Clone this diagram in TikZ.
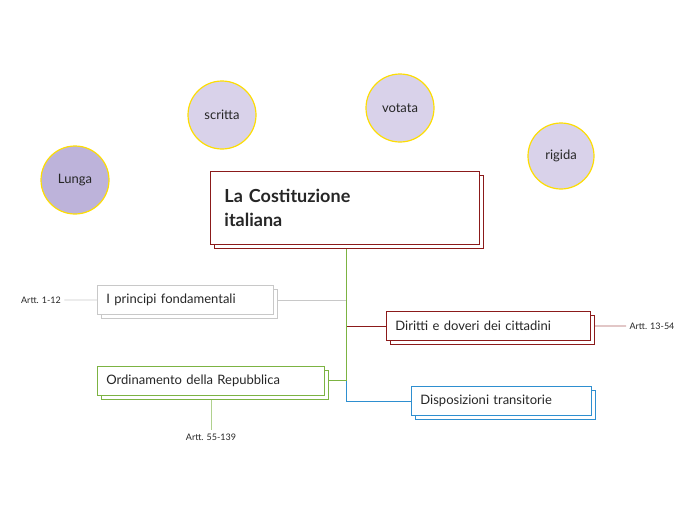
\documentclass[tikz,border=0pt]{standalone}
\usepackage{fontspec}
\setmainfont{Lato}
\usetikzlibrary{calc}
\begin{document}
\begin{tikzpicture}[x=1pt,y=-1pt,
  circ/.style={circle,draw=yellow!80!orange,line width=1.2pt,minimum size=68pt,font=\fontsize{13}{15}\selectfont,text=black!85},
  bx/.style={draw,fill=white,line width=0.9pt,anchor=north west,minimum height=29pt,inner xsep=9pt,align=left,font=\fontsize{13}{15}\selectfont,text=black!85},
  lbl/.style={font=\fontsize{9}{10}\selectfont,text=black!85}]
\useasboundingbox (0,0) rectangle (696,520);
\definecolor{dred}{HTML}{8B1A1A}
\definecolor{grn}{HTML}{7CB342}
\definecolor{blu}{HTML}{2E8FD0}
\definecolor{gry}{HTML}{C8C8C8}
\definecolor{lavd}{HTML}{BDB3DA}
\definecolor{lavl}{HTML}{D9D2EA}
% circles
\node[circ,fill=lavd] (lunga) at (75,180) {Lunga};
\node[circ,fill=lavl] (scritta) at (222,115) {scritta};
\node[circ,fill=lavl] (votata) at (400,108) {votata};
\node[circ,fill=lavl,minimum size=66pt] (rigida) at (561,156) {rigida};
% connectors
\coordinate (t) at (346,246);
\coordinate (j1) at (346,300);
\coordinate (j2) at (346,380);
\coordinate (j3) at (346,326);
\coordinate (j4) at (346,401);
\draw[gry,line width=0.9pt] (277,300) -- (j1);
\draw[dred,line width=0.9pt] (j3) -- (386,326);
\draw[blu,line width=0.9pt] (j1) -- (j4) -- (411,401);
\draw[grn,line width=0.9pt] (t) -- (j2) -- (326,380);
% central
\draw[dred,line width=0.9pt,fill=white] (214,175) rectangle (483,248);
\node[draw=dred,fill=white,line width=0.9pt,anchor=north west,minimum width=269pt,minimum height=73pt,inner xsep=14pt,align=left,text width=241pt,font=\bfseries\fontsize{18}{24}\selectfont,text=black!85] (main) at (210,171) {La Costituzione\\italiana};
% boxes with shadow
\newcommand\shbox[5]{%
 \draw[#2,line width=0.9pt,fill=white] ($(#3)+(4,4)$) rectangle ($(#3)+(#4,29)+(4,4)$);
 \node[bx,draw=#2,text width=#4 pt - 18pt] (#1) at (#3) {#5};}
\shbox{princ}{gry}{97,285}{176}{I principi fondamentali}
\shbox{dir}{dred}{386,311}{204}{Diritti e doveri dei cittadini}
\shbox{ord}{grn}{97,366}{227}{Ordinamento della Repubblica}
\shbox{disp}{blu}{411,386}{180}{Disposizioni transitorie}
% labels
\node[lbl] (a1) at (41,300) {Artt. 1-12};
\node[lbl] (a2) at (652,326) {Artt. 13-54};
\node[lbl] (a3) at (211,437) {Artt. 55-139};
\draw[gry,line width=0.6pt] (a1.east) -- (princ.west);
\draw[dred!70,line width=0.6pt] ($(dir.east)+(4,0)$) -- (a2.west);
\draw[grn!60,line width=0.6pt] ($(ord.south west)+(114,4)$) -- (a3.north);
\end{tikzpicture}
\end{document}
